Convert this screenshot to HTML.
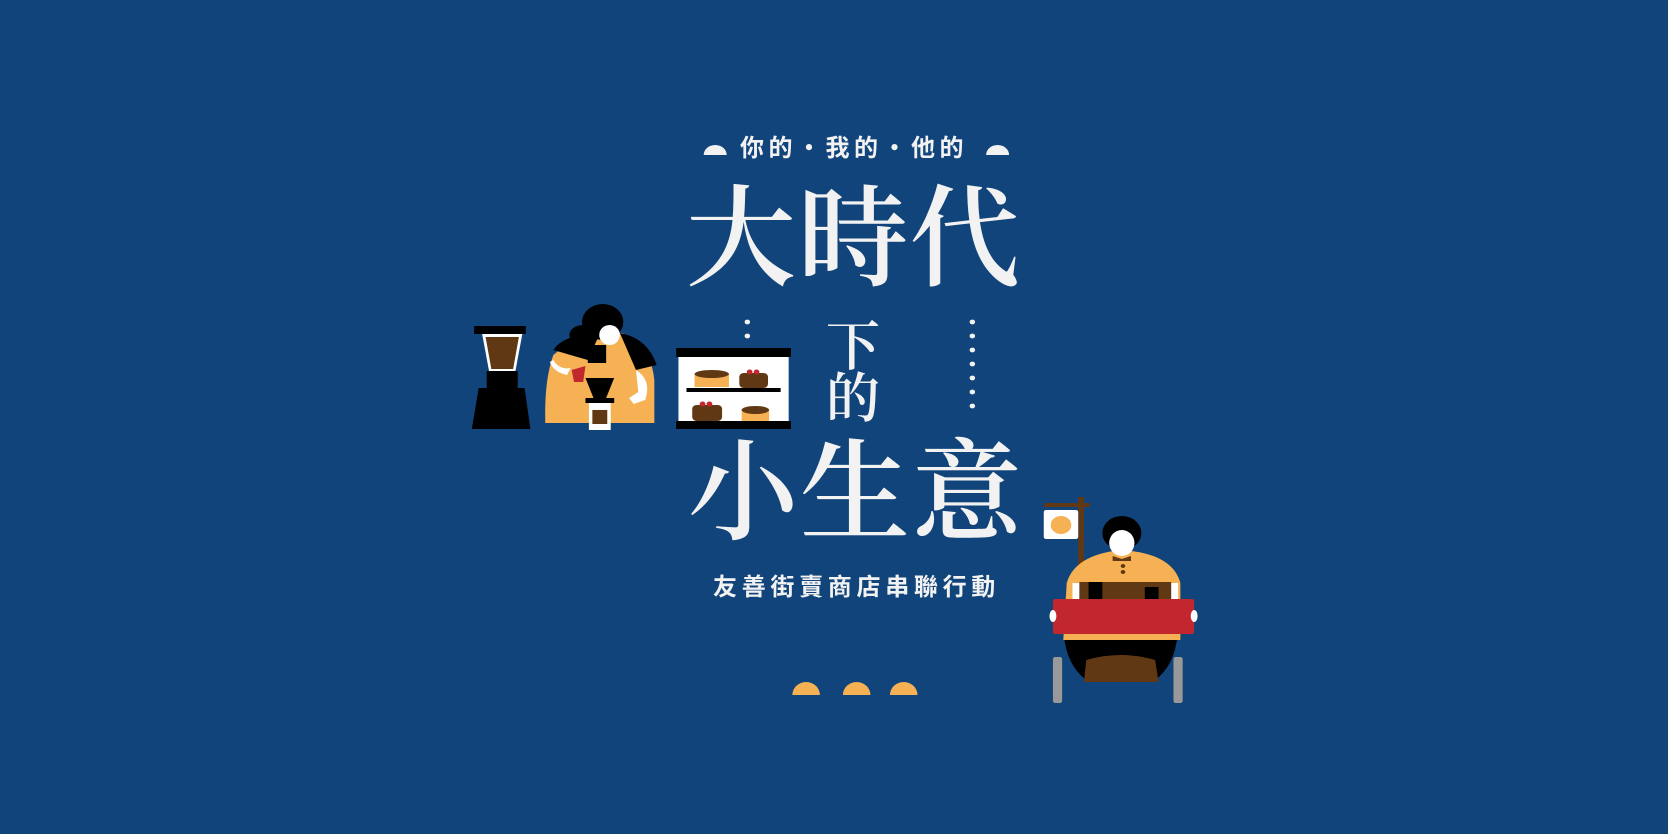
<!DOCTYPE html>
<html><head><meta charset="utf-8">
<style>
html,body{margin:0;padding:0;}
body{width:1668px;height:834px;overflow:hidden;background:#11447a;position:relative;}
.t{position:absolute;color:#f2f2f2;white-space:nowrap;line-height:1;}
.sans{font-family:"Liberation Sans","Noto Sans CJK TC",sans-serif;font-weight:bold;}
.serif{font-family:"Liberation Serif","Noto Serif CJK SC",serif;font-weight:600;}
svg{position:absolute;left:0;top:0;}
</style></head>
<body>
<svg width="1668" height="834">
 <g transform="translate(450,0) scale(1.148,1) translate(-450,0)">
  <path d="M671 155 A10 10 0 0 1 691 155 Z" fill="#f2f2f2"/>
  <path d="M917 155 A10 10 0 0 1 937 155 Z" fill="#f2f2f2"/>
  <g fill="#f2f2f2">
    <circle cx="709" cy="322" r="2.4"/><circle cx="709" cy="336" r="2.4"/>
    <circle cx="905" cy="322" r="2.4"/><circle cx="905" cy="336" r="2.4"/><circle cx="905" cy="350" r="2.4"/>
    <circle cx="905" cy="364" r="2.4"/><circle cx="905" cy="378" r="2.4"/><circle cx="905" cy="392" r="2.4"/><circle cx="905" cy="406" r="2.4"/>
  </g>
  <g>
    <rect x="471" y="326" width="45" height="8" fill="#000"/>
    <path d="M478 334 L513 334 L507 371 L484 371 Z" fill="#fff"/>
    <path d="M481 337 L510 337 L505 369 L486 369 Z" fill="#603813"/>
    <rect x="482" y="371" width="27" height="17" fill="#000"/>
    <path d="M475 388 L515 388 L520 429 L469 429 Z" fill="#000"/>
  </g>
  <g>
    <path d="M540 355 Q560 335 600 333 Q625 345 628 380 L628 423 L533 423 Q532 380 540 355 Z" fill="#f5b153"/>
    <path d="M540 350 Q550 333 580 335 L570 360 Z M598 333 Q622 338 630 365 L612 370 Z" fill="#000"/>
    <ellipse cx="583" cy="322" rx="18" ry="18" fill="#000"/>
    <ellipse cx="566" cy="335" rx="12" ry="10" fill="#000"/>
    <ellipse cx="589" cy="335" rx="9" ry="10" fill="#fff"/>
    <rect x="570" y="345" width="16" height="18" fill="#000"/>
    <path d="M540 360 Q545 370 555 368 L552 375 Q540 372 537 362 Z" fill="#fff"/>
    <path d="M556 370 L568 366 L566 382 L558 382 Z" fill="#c1272d"/>
    <path d="M612 370 Q626 380 620 400 L610 404 L606 398 L614 392 Z" fill="#fff"/>
    <path d="M568 378 L593 378 L586 398 L575 398 Z" fill="#000"/>
    <rect x="568" y="398" width="25" height="5" fill="#000"/>
    <rect x="571" y="403" width="19" height="27" fill="#fff"/>
    <rect x="574" y="410" width="13" height="14" fill="#603813"/>
  </g>
  <g>
    <rect x="649" y="354" width="96" height="70" fill="#fff"/>
    <rect x="647" y="348" width="100" height="9" fill="#000"/>
    <rect x="647" y="421" width="100" height="8" fill="#000"/>
    <rect x="656" y="388" width="82" height="4" fill="#000"/>
    <rect x="663" y="374" width="30" height="13" fill="#f5b153"/><ellipse cx="678" cy="374" rx="15" ry="4" fill="#603813"/>
    <rect x="702" y="373" width="25" height="15" rx="4" fill="#603813"/><circle cx="711" cy="372" r="2.5" fill="#c1272d"/><circle cx="717" cy="372" r="2.5" fill="#c1272d"/>
    <rect x="661" y="405" width="26" height="16" rx="4" fill="#603813"/><circle cx="670" cy="404" r="2.5" fill="#c1272d"/><circle cx="676" cy="404" r="2.5" fill="#c1272d"/>
    <rect x="704" y="410" width="24" height="11" fill="#f5b153"/><ellipse cx="716" cy="410" rx="12" ry="4" fill="#603813"/>
  </g>
 </g>
 <g transform="translate(650,0) scale(1.148,1) translate(-650,0)">
  <g fill="#f5b153">
    <path d="M774 695 A12 13 0 0 1 798 695 Z"/>
    <path d="M818 695 A12 13 0 0 1 842 695 Z"/>
    <path d="M859 695 A12 13 0 0 1 883 695 Z"/>
  </g>
  <g>
    <rect x="1023" y="497" width="5" height="85" fill="#603813"/>
    <rect x="993" y="503" width="40" height="4" fill="#603813"/>
    <rect x="993" y="510" width="30" height="29" rx="2" fill="#fff"/>
    <circle cx="1008" cy="525" r="9" fill="#f5b153"/>
    <rect x="1001" y="657" width="8" height="46" rx="2" fill="#999"/>
    <rect x="1106" y="657" width="8" height="46" rx="2" fill="#999"/>
    <path d="M1010 630 L1110 630 Q1108 665 1090 680 L1030 680 Q1012 665 1010 630 Z" fill="#000"/>
    <path d="M1030 660 Q1060 650 1090 660 L1093 682 L1028 682 Z" fill="#603813"/>
    <path d="M1013 583 Q1020 555 1060 550 Q1105 553 1112 583 L1112 640 L1010 640 Z" fill="#f5b153"/>
    <rect x="1018" y="583" width="92" height="16" fill="#fff"/>
    <rect x="1024" y="582" width="80" height="17" fill="#603813"/>
    <rect x="1032" y="582" width="12" height="17" fill="#000"/><rect x="1081" y="587" width="12" height="12" fill="#000"/>
    <rect x="1001" y="599" width="123" height="35" rx="2" fill="#c1272d"/>
    <ellipse cx="1001" cy="616" rx="3" ry="6" fill="#fff"/><ellipse cx="1124" cy="616" rx="3" ry="6" fill="#fff"/>
    <ellipse cx="1061" cy="533" rx="17" ry="17" fill="#000"/>
    <ellipse cx="1061" cy="543" rx="11" ry="13" fill="#fff"/>
    <path d="M1053 556 L1061 559 L1069 556 L1069 561 L1053 561 Z" fill="#603813"/>
    <circle cx="1062" cy="566" r="2" fill="#603813"/><circle cx="1062" cy="572" r="2" fill="#603813"/>
  </g>
 </g>
</svg>

<div class="t sans" style="left:740px;top:137px;font-size:24px;letter-spacing:4.5px;">你的・我的・他的</div>
<div class="t serif" style="left:686px;top:185px;font-size:110px;letter-spacing:2px;">大時代</div>
<div class="t serif" style="left:826px;top:320px;font-size:54px;">下</div>
<div class="t serif" style="left:826px;top:372px;font-size:54px;">的</div>
<div class="t serif" style="left:688px;top:439px;font-size:110px;letter-spacing:2px;">小生意</div>
<div class="t sans" style="left:713px;top:576px;font-size:24px;letter-spacing:4.7px;">友善街賣商店串聯行動</div>
</body></html>
